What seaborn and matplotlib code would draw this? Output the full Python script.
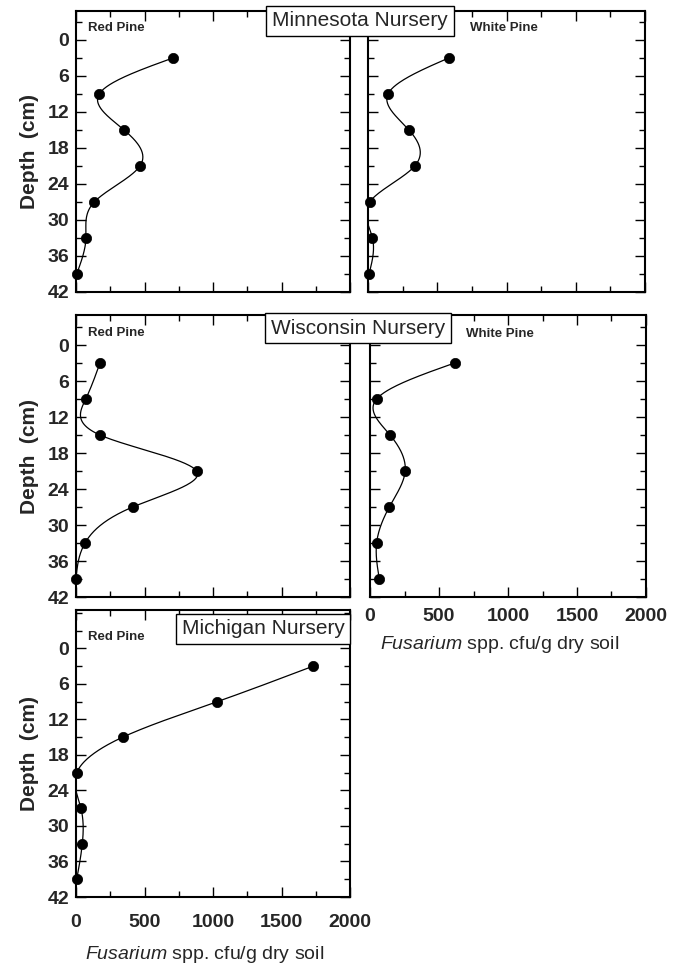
import numpy as np
import matplotlib
matplotlib.use("Agg")
import matplotlib.pyplot as plt
from matplotlib.ticker import MultipleLocator
import seaborn as sns

# Sampling depths (cm) and Fusarium counts (cfu/g dry soil)
depths = [3, 9, 15, 21, 27, 33, 39]
mn_red_pine = [710, 170, 350, 467, 134, 73, 5]
mn_white_pine = [585, 145, 295, 338, 12, 32, 7]
wi_red_pine = [175, 71, 175, 880, 414, 66, 0]
wi_white_pine = [613, 48, 145, 255, 140, 48, 68]
mi_red_pine = [1730, 1030, 340, 5, 36, 46, 5]

depth_ticks = [0, 6, 12, 18, 24, 30, 36, 42]
count_ticks = [0, 500, 1000, 1500, 2000]
nurseries = ["Minnesota Nursery", "Wisconsin Nursery", "Michigan Nursery"]
species = ["Red Pine", "White Pine"]
xlabel = r"$\mathit{Fusarium}$ spp. cfu/g dry soil"

sns.set_theme(style="ticks")
plt.rcParams["font.family"] = ["Liberation Sans", "DejaVu Sans"]
plt.rcParams["mathtext.fontset"] = "custom"
plt.rcParams["mathtext.it"] = "Liberation Sans:italic"
plt.rcParams["mathtext.rm"] = "Liberation Sans"

W, H = 687, 964
fig = plt.figure(figsize=(W / 100, H / 100), dpi=100)


def add_axes_px(left, top, right, bottom):
    return fig.add_axes([left / W, 1 - bottom / H, (right - left) / W, (bottom - top) / H])


def natural_spline(t, y, tt):
    """Natural cubic spline through (t, y), evaluated at tt."""
    t = np.asarray(t, float)
    y = np.asarray(y, float)
    n = len(t)
    h = np.diff(t)
    A = np.zeros((n, n))
    b = np.zeros(n)
    A[0, 0] = A[-1, -1] = 1.0
    for i in range(1, n - 1):
        A[i, i - 1] = h[i - 1]
        A[i, i] = 2 * (h[i - 1] + h[i])
        A[i, i + 1] = h[i]
        b[i] = 6 * ((y[i + 1] - y[i]) / h[i] - (y[i] - y[i - 1]) / h[i - 1])
    M = np.linalg.solve(A, b)
    idx = np.clip(np.searchsorted(t, tt) - 1, 0, n - 2)
    t0, t1 = t[idx], t[idx + 1]
    hi = t1 - t0
    a = (t1 - tt) / hi
    c = (tt - t0) / hi
    return (a * y[idx] + c * y[idx + 1]
            + ((a ** 3 - a) * M[idx] + (c ** 3 - c) * M[idx + 1]) * hi ** 2 / 6)


def profile(ax, values, top_lim, show_x, show_y, label, label_px,
            xpad=8, xlab_y=-0.13):
    dd = np.linspace(depths[0], depths[-1], 300)
    xx = natural_spline(depths, values, dd)
    sns.lineplot(x=xx, y=dd, sort=False, estimator=None, color="black",
                 lw=0.9, ax=ax)
    sns.scatterplot(x=values, y=depths, s=55, color="black", edgecolor="black",
                    linewidth=0.5, ax=ax, zorder=3, clip_on=False)
    ax.set_xlim(0, 2000)
    ax.set_ylim(42, top_lim)
    ax.set_xticks(count_ticks)
    ax.set_yticks(depth_ticks)
    ax.xaxis.set_minor_locator(MultipleLocator(250))
    ax.yaxis.set_minor_locator(MultipleLocator(3))
    ax.tick_params(which="both", direction="in", top=True, right=True,
                   width=1.0, color="black")
    ax.tick_params(which="major", length=7)
    ax.tick_params(which="minor", length=4)
    ax.tick_params(axis="x", pad=xpad, labelsize=14, labelbottom=show_x)
    ax.tick_params(axis="y", pad=5, labelsize=14, labelleft=show_y)
    for lab in ax.get_xticklabels() + ax.get_yticklabels():
        lab.set_fontweight("bold")
    for s in ax.spines.values():
        s.set_linewidth(1.5)
        s.set_color("black")
    ax.set_xlabel("")
    ax.set_ylabel("")
    if show_y:
        ax.set_ylabel("Depth  (cm)", fontsize=15, fontweight="bold")
        ax.yaxis.set_label_coords(-0.135, 0.5)
    if show_x:
        ax.set_xlabel(xlabel, fontsize=14)
        ax.xaxis.set_label_coords(0.47, xlab_y)
    fig.text(label_px[0] / W, 1 - label_px[1] / H, label, fontsize=9.5,
             fontweight="bold", ha="left", va="center")


ax1 = add_axes_px(76, 11, 350, 292)
profile(ax1, mn_red_pine, -4.8, False, True, species[0], (88, 28))
ax2 = add_axes_px(368, 11, 645, 292)
profile(ax2, mn_white_pine, -4.8, False, False, species[1], (470, 28))

ax3 = add_axes_px(76, 315, 350, 597)
profile(ax3, wi_red_pine, -5.0, False, True, species[0], (88, 333))
ax4 = add_axes_px(370, 315, 646, 597)
profile(ax4, wi_white_pine, -5.0, True, False, species[1], (466, 334),
        xpad=8, xlab_y=-0.13)

ax5 = add_axes_px(76, 610, 350, 897)
profile(ax5, mi_red_pine, -6.5, True, True, species[0], (88, 637),
        xpad=12, xlab_y=-0.165)

box = dict(boxstyle="square,pad=0.28", facecolor="white", edgecolor="black",
           linewidth=1.0)
fig.text(360 / W, 1 - 21 / H, nurseries[0], fontsize=15, ha="center",
         va="center", bbox=box, zorder=10)
fig.text(358 / W, 1 - 328 / H, nurseries[1], fontsize=15, ha="center",
         va="center", bbox=box, zorder=10)
fig.text(263 / W, 1 - 629 / H, nurseries[2], fontsize=15, ha="center",
         va="center", bbox=box, zorder=10)

fig.savefig("out.png", dpi=100, facecolor="white")
